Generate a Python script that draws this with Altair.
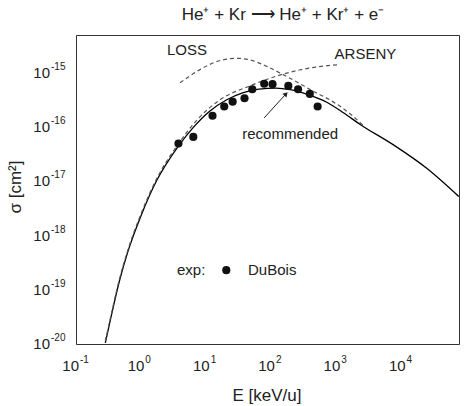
import altair as alt
import pandas as pd

FONT = "Liberation Sans"

# Recommended cross section (solid curve), E in keV/u, sigma in cm^2
rec_E = [0.281, 0.344, 0.460, 0.619, 1.0, 1.68, 3.6, 6.3, 11.0, 20, 35.5, 63,
         115, 190, 355, 690, 1260, 2240, 7240, 23400, 72400]
rec_sigma = [1.05e-20, 3.16e-20, 1.42e-19, 4.94e-19, 2.4e-18, 9.8e-18, 4.27e-17,
             1.0e-16, 1.95e-16, 3.16e-16, 4.27e-16, 5.0e-16, 5.25e-16, 4.9e-16,
             3.98e-16, 2.88e-16, 1.82e-16, 1.12e-16, 4.7e-17, 1.74e-17, 5.25e-18]

# ARSENY calculation (dashed)
arseny_E = [0.281, 0.344, 0.460, 0.619, 1.0, 1.68, 3.6, 7.1, 15.8, 45.7, 148, 380, 1000]
arseny_sigma = [1.13e-20, 3.4e-20, 1.53e-19, 5.3e-19, 2.6e-18, 1.06e-17, 4.7e-17,
                1.35e-16, 3.16e-16, 5.75e-16, 9.5e-16, 1.23e-15, 1.41e-15]

# LOSS calculation (dashed)
loss_E = [3.92, 7.9, 14.3, 28.8, 45.7, 83, 148, 240, 427, 776, 1550, 2500]
loss_sigma = [6.6e-16, 1.15e-15, 1.62e-15, 1.86e-15, 1.74e-15, 1.32e-15, 9.3e-16,
              6.8e-16, 4.6e-16, 3.16e-16, 1.78e-16, 1.07e-16]

# DuBois measurements
dubois_E = [3.7, 6.25, 12.3, 18.6, 25, 38, 50, 76, 102, 178, 251, 380, 500]
dubois_sigma = [5.0e-17, 6.6e-17, 1.62e-16, 2.4e-16, 2.95e-16, 3.4e-16, 5.0e-16,
                6.3e-16, 6.2e-16, 5.75e-16, 5.0e-16, 4.1e-16, 2.4e-16]

# Axis decades
x_major = [0.1, 1, 10, 100, 1000, 10000]
x_exp = ["-1", "0", "1", "2", "3", "4"]
y_major = [1e-20, 1e-19, 1e-18, 1e-17, 1e-16, 1e-15]
y_exp = ["-20", "-19", "-18", "-17", "-16", "-15"]

X_MAX = 7.3e4
Y_MAX = 5.0e-15
W, H = 383, 309

# Every 1..9 multiple inside the domain; decades get the longer tick
x_ticks = [k * 10.0 ** d for d in range(-1, 5) for k in range(1, 10) if k * 10.0 ** d <= X_MAX]
y_ticks = [k * 10.0 ** d for d in range(-20, -14) for k in range(1, 10) if k * 10.0 ** d <= Y_MAX]

is_decade = "abs(log(datum.value) / LN10 - round(log(datum.value) / LN10)) < 0.001"
tick_len = {"condition": {"test": is_decade, "value": 5}, "value": 3}

xs = alt.Scale(type="log", domain=[0.1, X_MAX], nice=False)
ys = alt.Scale(type="log", domain=[1e-20, Y_MAX], nice=False)

rec = pd.DataFrame({"E": rec_E, "sigma": rec_sigma})
arseny = pd.DataFrame({"E": arseny_E, "sigma": arseny_sigma})
loss = pd.DataFrame({"E": loss_E, "sigma": loss_sigma})
dubois = pd.DataFrame({"E": dubois_E, "sigma": dubois_sigma})

x_axis = alt.Axis(values=x_ticks, labels=False, grid=False, tickSize=tick_len, tickColor="black",
                  domainColor="black", title=None)
y_axis = alt.Axis(values=y_ticks, labels=False, grid=False, tickSize=tick_len, tickColor="black",
                  domainColor="black", title=None)

recommended = alt.Chart(rec).mark_line(color="black", strokeWidth=1.3, interpolate="monotone", clip=True).encode(
    x=alt.X("E:Q", scale=xs, axis=x_axis),
    y=alt.Y("sigma:Q", scale=ys, axis=y_axis),
)


def xy():
    return dict(x=alt.X("E:Q", scale=xs, axis=None), y=alt.Y("sigma:Q", scale=ys, axis=None))


def dashed(df):
    return alt.Chart(df).mark_line(color="#555", strokeWidth=1.2, strokeDash=[4, 3],
                                   interpolate="monotone", clip=True).encode(**xy())


points = alt.Chart(dubois).mark_circle(color="#111", size=66, opacity=1).encode(**xy())

# Decade labels written as 10 with a raised exponent
xl = pd.DataFrame({"E": x_major, "exp": x_exp})
x_base = alt.Chart(xl).mark_text(text="10", font=FONT, fontSize=15, color="#222", align="right",
                                 baseline="middle", dx=3).encode(
    x=alt.X("E:Q", scale=xs, axis=None), y=alt.value(H + 22))
x_sup = alt.Chart(xl).mark_text(font=FONT, fontSize=10, color="#222", align="left",
                                baseline="middle", dx=4).encode(
    x=alt.X("E:Q", scale=xs, axis=None), y=alt.value(H + 16), text="exp:N")

yl = pd.DataFrame({"s": y_major, "exp": y_exp})
y_base = alt.Chart(yl).mark_text(text="10", font=FONT, fontSize=15, color="#222", align="right",
                                 baseline="middle").encode(
    y=alt.Y("s:Q", scale=ys, axis=None), x=alt.value(-26))
y_sup = alt.Chart(yl).mark_text(font=FONT, fontSize=10, color="#222", align="left",
                                baseline="middle", dy=-6).encode(
    y=alt.Y("s:Q", scale=ys, axis=None), x=alt.value(-25), text="exp:N")

# Axis titles
x_title = alt.Chart(pd.DataFrame({"t": ["E [keV/u]"]})).mark_text(
    font=FONT, fontSize=17, color="#222", align="center", baseline="middle").encode(
    text="t:N", x=alt.value(191), y=alt.value(H + 52))
y_title = alt.Chart(pd.DataFrame({"t": ["σ [cm²]"]})).mark_text(
    font=FONT, fontSize=17, color="#222", align="center", baseline="middle", angle=270).encode(
    text="t:N", x=alt.value(-60), y=alt.value(152))

# In-plot labels
center_labels = pd.DataFrame({
    "E": [5.0, 2700, 190, 5.8],
    "sigma": [2.6e-15, 2.2e-15, 7.4e-17, 2.3e-19],
    "txt": ["LOSS", "ARSENY", "recommended", "exp:"],
})
left_labels = pd.DataFrame({"E": [43], "sigma": [2.3e-19], "txt": ["DuBois"]})
label_c = alt.Chart(center_labels).mark_text(font=FONT, fontSize=15, color="#222", baseline="middle",
                                             align="center").encode(text="txt:N", **xy())
label_l = alt.Chart(left_labels).mark_text(font=FONT, fontSize=15, color="#222", baseline="middle",
                                           align="left").encode(text="txt:N", **xy())
legend_dot = alt.Chart(pd.DataFrame({"E": [20], "sigma": [2.3e-19]})).mark_circle(
    color="#111", size=66, opacity=1).encode(**xy())

# Arrow pointing at the recommended curve
arrow = pd.DataFrame({"E": [76, 164], "sigma": [1.48e-16, 4.1e-16]})
arrow_line = alt.Chart(arrow).mark_line(color="#222", strokeWidth=1).encode(**xy())
arrow_head = alt.Chart(arrow.tail(1)).mark_point(shape="triangle-up", filled=True, color="#222",
                                                 size=30, angle=42, opacity=1).encode(**xy())

title = alt.Chart(pd.DataFrame({"t": ["He⁺ + Kr ⟶ He⁺ + Kr⁺ + e⁻"]})).mark_text(
    font=FONT, fontSize=17, color="#222", align="center", baseline="middle").encode(
    text="t:N", x=alt.value(207), y=alt.value(-20))

chart = alt.layer(
    recommended, dashed(arseny), dashed(loss), points,
    x_base, x_sup, y_base, y_sup, x_title, y_title,
    label_c, label_l, legend_dot, arrow_line, arrow_head, title,
).properties(
    width=W, height=H,
    autosize=alt.AutoSizeParams(type="none"),
    padding={"left": 76, "top": 35, "right": 7, "bottom": 62},
    background="white",
).configure_view(stroke="#333", strokeWidth=1)

chart.save("out.html", embed_options={"renderer": "svg", "actions": False})
